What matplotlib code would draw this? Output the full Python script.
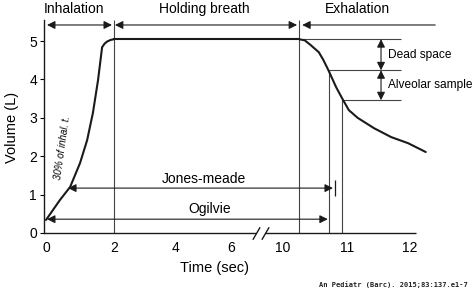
import numpy as np
import matplotlib
matplotlib.use("Agg")
import matplotlib.pyplot as plt
from matplotlib.path import Path

plt.rcParams['font.family'] = ['Liberation Sans', 'DejaVu Sans']

# ---------------- data ----------------
inhale_t = [0.0, 0.41, 0.71, 1.0, 1.21, 1.38, 1.53, 1.65, 1.72, 1.80, 1.90, 2.0]
inhale_v = [0.34, 0.86, 1.20, 1.82, 2.42, 3.13, 3.98, 4.84, 4.93, 4.99, 5.03, 5.05]
hold_t = [2.0, 10.25]
hold_v = [5.05, 5.05]
exhale_t = [10.25, 10.34, 10.43, 10.56, 10.63, 10.71, 10.83, 10.94, 11.03, 11.17, 11.43, 11.70, 11.97, 12.25]
exhale_v = [5.05, 5.02, 4.90, 4.71, 4.51, 4.24, 3.80, 3.46, 3.20, 3.00, 2.73, 2.50, 2.34, 2.11]

x_ticks = [0, 2, 4, 6, 10, 11, 12]
x_tick_labels = ['0', '2', '4', '6', '10', '11', '12']
y_ticks = [0, 1, 2, 3, 4, 5]

phase_labels = ['Inhalation', 'Holding breath', 'Exhalation']
inhal_end = 2.0
hold_end = 10.25
jones_end = 10.72      # vertical line of dead-space limit
alveolar_end = 10.92   # vertical line of alveolar sample end
dead_space_v = [5.05, 4.24, 3.46]
jones_start_t, jones_v = 0.65, 1.17
ogilvie_start_t, ogilvie_v = 0.03, 0.36
jones_arrow_end = 10.78
ogilvie_arrow_end = 10.70
break_lo, break_hi = 7.92, 8.62

# ---------------- broken time axis scale ----------------
real_pts = np.array([-10, 0, 2, 4, 6, 10, 11, 12, 30], dtype=float)
pos_pts = np.array([46 - 340, 46, 114, 176, 231, 283, 347, 410, 410 + 18 * 63], dtype=float)


def fwd(x):
    return np.interp(x, real_pts, pos_pts)


def inv(p):
    return np.interp(p, pos_pts, real_pts)


W, H = 474, 295
fig = plt.figure(figsize=(W / 100, H / 100), dpi=100)
ax = fig.add_axes([44 / W, 62 / H, 396 / W, 213 / H])
ax.set_xscale('function', functions=(fwd, inv))
ax.set_xlim(inv(44), inv(440))
ax.set_ylim(0, 5.55)

dark = '#1a1a1a'
gray = '#444444'

# volume curve
ax.plot(inhale_t, inhale_v, color=dark, lw=1.5, solid_capstyle='round', zorder=5)
ax.plot(hold_t, hold_v, color=dark, lw=1.5, zorder=5)
ax.plot(exhale_t, exhale_v, color=dark, lw=1.5, solid_capstyle='round', zorder=5)

# reference vertical lines
ax.vlines([inhal_end, hold_end], 0, 5.55, color=gray, lw=0.8, clip_on=False)
ax.vlines([jones_end], 0, dead_space_v[1], color=gray, lw=0.8)
ax.vlines([alveolar_end], 0, dead_space_v[2], color=gray, lw=0.8)

# horizontal dead space lines
hx_end = 11.86
ax.hlines(dead_space_v[0], 10.30, hx_end, color=gray, lw=0.8)
ax.hlines(dead_space_v[1], jones_end, hx_end, color=gray, lw=0.8)
ax.hlines(dead_space_v[2], alveolar_end, hx_end, color=gray, lw=0.8)

ms = 12


def arrow(x0, y0, x1, y1, style):
    ax.annotate('', xy=(x1, y1), xytext=(x0, y0),
                arrowprops=dict(arrowstyle=style, color=dark, lw=0.8,
                                shrinkA=0, shrinkB=0, mutation_scale=ms),
                annotation_clip=False)


# top phase arrows
top_y = 5.42
arrow(0.03, top_y, 1.94, top_y, '<|-|>')
arrow(2.03, top_y, 10.22, top_y, '<|-|>')
arrow(12.40, top_y, 10.30, top_y, '-|>')

label_y = 5.83
ax.text(0.81, label_y, phase_labels[0], ha='center', va='center', fontsize=10)
ax.text(5.02, label_y, phase_labels[1], ha='center', va='center', fontsize=10)
ax.text(11.16, label_y, phase_labels[2], ha='center', va='center', fontsize=10)

# dead space / alveolar arrows
ds_x = 11.54
arrow(ds_x, dead_space_v[0], ds_x, dead_space_v[1], '<|-|>')
arrow(ds_x, dead_space_v[1], ds_x, dead_space_v[2], '<|-|>')
ax.text(11.65, 4.64, 'Dead space', ha='left', va='center', fontsize=8.6)
ax.text(11.65, 3.85, 'Alveolar sample', ha='left', va='center', fontsize=8.6)

# Jones-meade and Ogilvie arrows
arrow(jones_start_t, jones_v, jones_arrow_end, jones_v, '<|-|>')
ax.vlines([10.81], 0.96, 1.38, color=dark, lw=0.9)
ax.text(5.02, 1.41, 'Jones-meade', ha='center', va='center', fontsize=10)
arrow(ogilvie_start_t, ogilvie_v, ogilvie_arrow_end, ogilvie_v, '<|-|>')
ax.text(5.24, 0.63, 'Ogilvie', ha='center', va='center', fontsize=10)

# rotated annotation
ax.text(0.49, 2.21, '30% of inhal. t.', rotation=82, fontsize=7, style='italic',
        ha='center', va='center', rotation_mode='anchor')

# axes styling
for s in ['top', 'right', 'bottom']:
    ax.spines[s].set_visible(False)
ax.spines['left'].set_linewidth(1.0)
ax.spines['left'].set_color(dark)
ax.set_xticks(x_ticks)
ax.set_xticklabels(x_tick_labels)
ax.set_yticks(y_ticks)
ax.tick_params(axis='x', length=0, pad=6, labelsize=10)
ax.tick_params(axis='y', length=3, width=0.8, pad=2, labelsize=10, direction='out')
ax.xaxis.set_minor_locator(plt.NullLocator())

# broken bottom axis
ax.plot([inv(44), break_lo], [0, 0], color=dark, lw=1.0, clip_on=False, solid_capstyle='butt')
ax.plot([break_hi, 12.1], [0, 0], color=dark, lw=1.0, clip_on=False, solid_capstyle='butt')
slash = Path([(-0.35, -0.6), (0.35, 0.6)], [Path.MOVETO, Path.LINETO])
ax.plot([break_lo, break_hi], [0, 0], linestyle='none', marker=slash, markersize=9,
        markeredgewidth=1.0, color=dark, clip_on=False)

ax.set_xlabel('Time (sec)', fontsize=10.5)
ax.xaxis.set_label_coords((215 - 44) / 396, (233 - 268) / 213)
ax.xaxis.label.set_va('center')
ax.set_ylabel('Volume (L)', fontsize=10.5)
ax.yaxis.set_label_coords((12 - 44) / 396, (233 - 127) / 213)
ax.yaxis.label.set_va('center')

fig.text(468 / W, 1 - 285 / H, 'An Pediatr (Barc). 2015;83:137.e1-7', ha='right', va='center',
         fontsize=5, family='DejaVu Sans Mono', color='#222222', weight='bold')

fig.savefig('out.png', dpi=100)
